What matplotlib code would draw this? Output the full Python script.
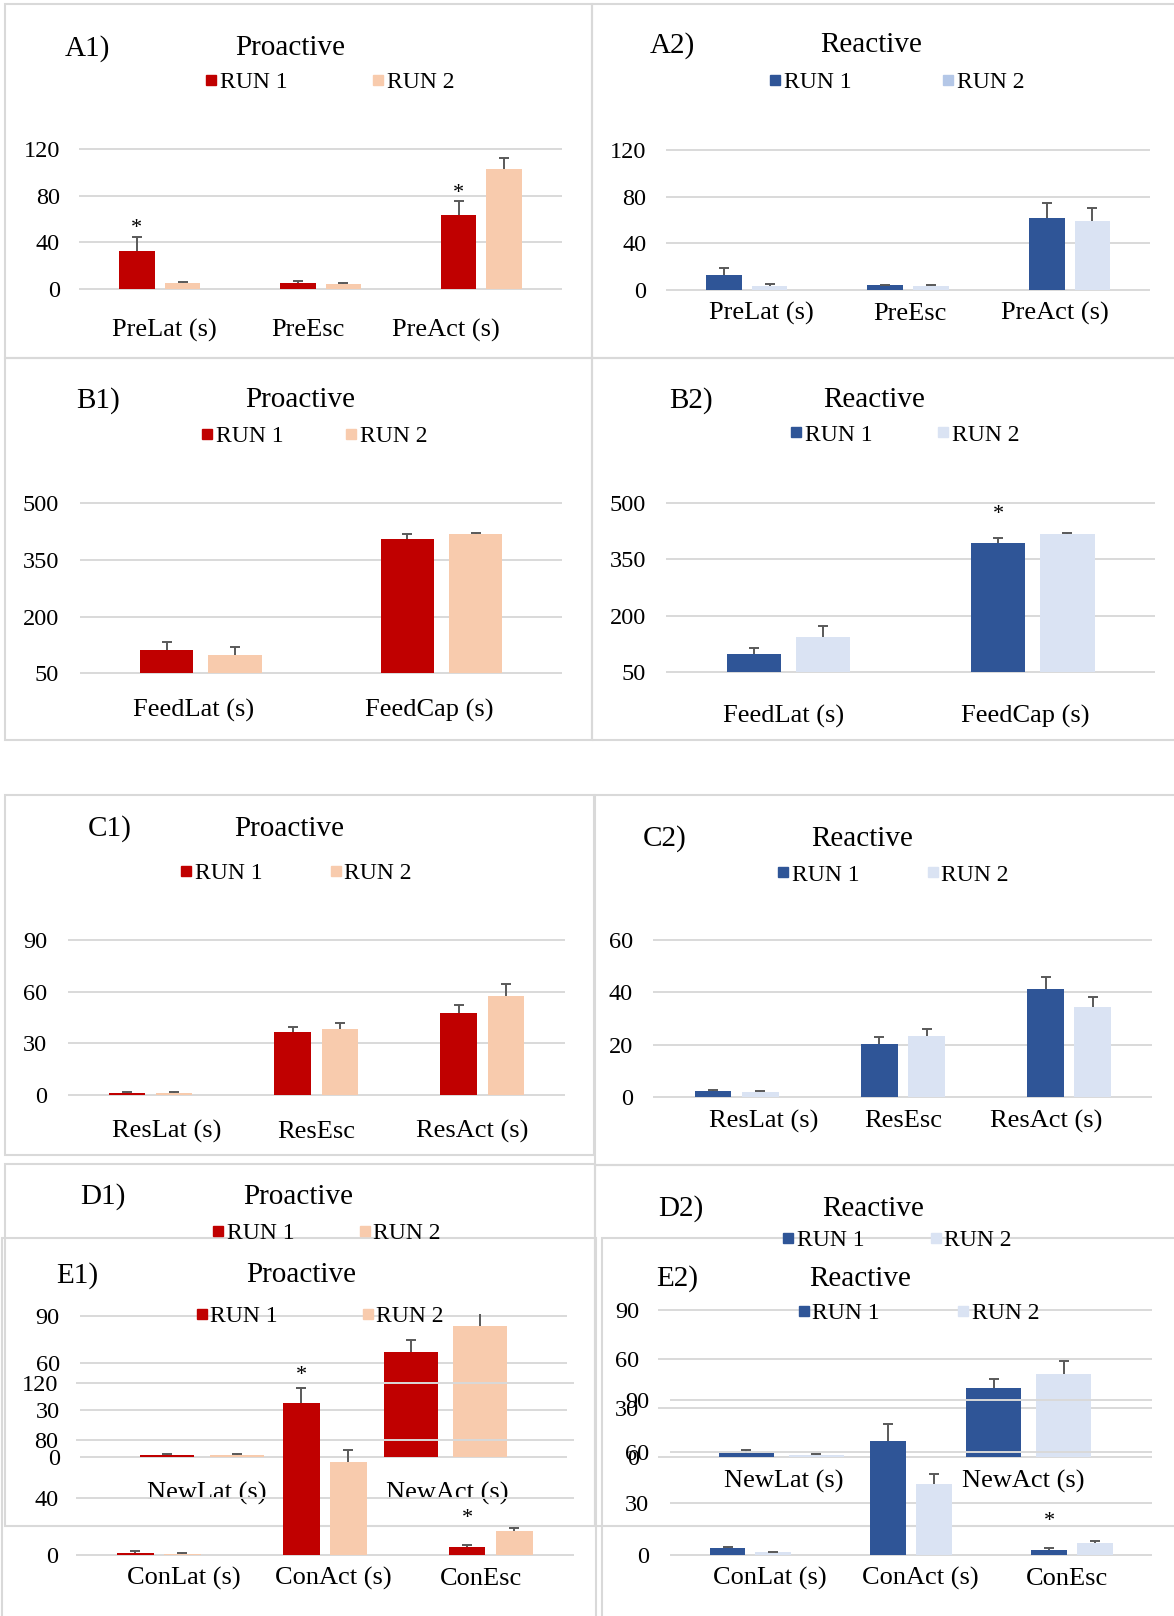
import numpy as np
import matplotlib
matplotlib.use("Agg")
import matplotlib.pyplot as plt
from matplotlib.lines import Line2D
from matplotlib.patches import Rectangle

plt.rcParams['font.family'] = ['Liberation Serif', 'DejaVu Serif']

# layout grid = reference as displayed (1139 x 1568), output is 1174 x 1616
W, H = 1139.0, 1568.0
SC = 1174.0 / 1139.0          # layout px -> output px
PT = 72.0 / 100.0             # output px -> points (dpi 100)
TXT_DY = 2.0                  # matplotlib centres text a little high

RED, PEACH = '#c00000', '#f8cbad'
BLUE, PALE = '#2f5597', '#dae3f3'
ERRC = '#595959'
GRID = '#d9d9d9'

# ---------------- data ----------------
pre_cats = ["PreLat (s)", "PreEsc", "PreAct (s)"]
feed_cats = ["FeedLat (s)", "FeedCap (s)"]
res_cats = ["ResLat (s)", "ResEsc", "ResAct (s)"]
new_cats = ["NewLat (s)", "NewAct (s)"]
con_cats = ["ConLat (s)", "ConAct (s)", "ConEsc"]

a1_run1 = [32.1, 4.9, 63.0]
a1_run1_err = [12.0, 1.4, 12.3]
a1_run2 = [4.6, 4.0, 102.8]
a1_run2_err = [1.1, 0.9, 9.8]

a2_run1 = [12.9, 3.7, 61.3]
a2_run1_err = [5.4, 0.6, 12.9]
a2_run2 = [3.2, 3.2, 59.3]
a2_run2_err = [1.4, 0.8, 10.9]

b1_run1 = [111.8, 406.5]
b1_run1_err = [20.2, 12.3]
b1_run2 = [98.5, 418.8]
b1_run2_err = [20.3, 1.5]

b2_run1 = [96.3, 394.0]
b2_run1_err = [17.0, 12.4]
b2_run2 = [142.7, 419.0]
b2_run2_err = [30.3, 1.2]

c1_run1 = [1.2, 36.9, 47.9]
c1_run1_err = [0.5, 2.7, 4.4]
c1_run2 = [1.2, 38.4, 57.6]
c1_run2_err = [0.5, 3.3, 6.9]

c2_run1 = [2.2, 20.3, 41.3]
c2_run1_err = [0.3, 2.5, 4.4]
c2_run2 = [1.9, 23.3, 34.5]
c2_run2_err = [0.4, 2.8, 3.5]

d1_run1 = [1.7, 66.9]
d1_run1_err = [0.6, 7.9]
d1_run2 = [1.5, 83.4]
d1_run2_err = [0.6, 13.8]

d2_run1 = [2.8, 42.5]
d2_run1_err = [1.9, 5.4]
d2_run2 = [1.6, 50.6]
d2_run2_err = [0.6, 8.1]

e1_run1 = [1.8, 105.7, 5.6]
e1_run1_err = [1.2, 10.8, 1.7]
e1_run2 = [1.0, 64.7, 16.9]
e1_run2_err = [0.8, 8.5, 2.1]

e2_run1 = [4.1, 66.4, 3.1]
e2_run1_err = [0.9, 9.7, 0.8]
e2_run2 = [1.7, 41.1, 6.8]
e2_run2_err = [0.4, 6.0, 1.3]

# significant differences (category index of the RUN 1 bar)
a1_stars = [0, 2]
b2_stars = [1]
e1_stars = [1, 2]
e2_stars = [2]

fig = plt.figure(figsize=(11.74, 16.16), dpi=100)

BW, OFF = 0.222, 0.142


def fx(x):
    return x / W


def fy(y):
    return 1 - y / H


def panel(cats, r1, e1, r2, e2, cols, lay, stars=(), z=0):
    x0, x1, ytop, ybot = lay['plot']
    lo, hi = lay['ylim']
    u = (hi - lo) / (ybot - ytop)
    ext = 2.0
    ax = fig.add_axes([fx(x0), fy(ybot + ext), (x1 - x0) / W, (ybot - ytop + 2 * ext) / H],
                      zorder=z)
    ax.set_facecolor('none')
    n = len(cats)
    x = np.arange(n)
    r1, e1, r2, e2 = map(np.asarray, (r1, e1, r2, e2))
    ax.bar(x - OFF, r1 - lo, bottom=lo, width=BW, color=cols[0], zorder=2)
    ax.bar(x + OFF, r2 - lo, bottom=lo, width=BW, color=cols[1], zorder=2)
    for xs, v, e in [(x - OFF, r1, e1), (x + OFF, r2, e2)]:
        _, caps, _ = ax.errorbar(xs, v, yerr=[np.zeros(n), e], fmt='none', ecolor=ERRC,
                                 elinewidth=1.4, capsize=3.8, capthick=1.4, zorder=3)
        caps[0].set_visible(False)
    for i, off in zip(stars, lay.get('star_off', [])):
        ax.annotate('*', xy=(i - OFF, r1[i] + e1[i]),
                    xytext=(0, (off * SC - 6) * PT), textcoords='offset points',
                    ha='center', va='center', fontsize=16)
    ax.set_xlim(-0.5, n - 0.5)
    ax.set_ylim(lo - ext * u, hi + ext * u)
    ax.set_yticks(lay['yticks'])
    ax.grid(axis='y', color=GRID, lw=1.4)
    ax.set_axisbelow(True)
    for s in ax.spines.values():
        s.set_visible(False)
    ax.tick_params(axis='y', length=0, labelsize=17.5, pad=lay['ypad'] * SC * PT)
    ax.set_xticks(x + np.asarray(lay['xshift']))
    ax.set_xticklabels(cats, fontsize=19, va='center')
    ax.tick_params(axis='x', length=0, pad=(lay['xd'] + TXT_DY - ext) * SC * PT)

    # panel letter + title
    (lx, ly), (tx, ty) = lay['label_pos'], lay['title_pos']
    fig.text(fx(lx), fy(ly + TXT_DY), lay['label'], ha='center', va='center', fontsize=21)
    fig.text(fx(tx), fy(ty + TXT_DY), lay['title'], ha='center', va='center', fontsize=21)

    # legend entries
    for (sx, sy), c, name in zip(lay['legend'], lay.get('legcols', cols), ["RUN 1", "RUN 2"]):
        h = Line2D([], [], marker='s', ls='', color=c, markersize=7.8)
        fig.legend(handles=[h], labels=[name], loc='center left',
                   bbox_to_anchor=(fx(sx - 6), fy(sy + 1.5)), frameon=False, borderpad=0,
                   borderaxespad=0, handlelength=0.5, handletextpad=0.12, fontsize=17)
    return ax


def box(x0, y0, x1, y1, z=5):
    fig.add_artist(Rectangle((fx(x0), fy(y1)), (x1 - x0) / W, (y1 - y0) / H,
                             transform=fig.transFigure, fill=False, ec=GRID, lw=1.5, zorder=z))


# ---------------- A ----------------
box(5, 4, 574, 347)
box(574, 4, 1141, 347)
panel(pre_cats, a1_run1, a1_run1_err, a1_run2, a1_run2_err, (RED, PEACH),
      dict(plot=(77, 545, 144.6, 280.1), ylim=(0, 120), yticks=[0, 40, 80, 120], ypad=19,
           xd=38.5, xshift=[0.03, -0.08, -0.22], label='A1)', label_pos=(85, 45),
           title='Proactive', title_pos=(282, 45), legend=[(205, 78.6), (367, 78.6)],
           star_off=[14.2, 13.2]), stars=a1_stars)
panel(pre_cats, a2_run1, a2_run1_err, a2_run2, a2_run2_err, (BLUE, PALE),
      dict(plot=(646, 1116, 145.5, 281), ylim=(0, 120), yticks=[0, 40, 80, 120], ypad=19,
           xd=21.4, xshift=[0.09, 0.01, -0.09], label='A2)', label_pos=(652, 42),
           title='Reactive', title_pos=(845, 42), legend=[(752, 78.6), (920, 78.6)],
           legcols=(BLUE, '#b4c7e7')))

# ---------------- B ----------------
box(5, 347, 574, 718)
box(574, 347, 1141, 718)
panel(feed_cats, b1_run1, b1_run1_err, b1_run2, b1_run2_err, (RED, PEACH),
      dict(plot=(78, 545, 488.3, 653.3), ylim=(50, 500), yticks=[50, 200, 350, 500], ypad=21,
           xd=34, xshift=[-0.03, -0.05], label='B1)', label_pos=(95, 386.5),
           title='Proactive', title_pos=(291, 386.5), legend=[(201, 422), (341, 422)]))
panel(feed_cats, b2_run1, b2_run1_err, b2_run2, b2_run2_err, (BLUE, PALE),
      dict(plot=(646.5, 1120.5, 488.3, 651.7), ylim=(50, 500), yticks=[50, 200, 350, 500],
           ypad=20, xd=41.3, xshift=[-0.02, -0.03], label='B2)', label_pos=(670, 386.5),
           title='Reactive', title_pos=(848, 386.5), legend=[(773, 420.4), (915, 420.4)],
           star_off=[28.5]), stars=b2_stars)

# ---------------- C ----------------
box(5, 771, 576, 1121)
box(577, 771, 1141, 1130)
panel(res_cats, c1_run1, c1_run1_err, c1_run2, c1_run2_err, (RED, PEACH),
      dict(plot=(65.5, 548.5, 912, 1062.7), ylim=(0, 90), yticks=[0, 30, 60, 90], ypad=20,
           xd=33.6, xshift=[0.1, 0.0, -0.06], label='C1)', label_pos=(106, 802),
           title='Proactive', title_pos=(281, 802), legend=[(181, 845.7), (326, 845.7)]))
panel(res_cats, c2_run1, c2_run1_err, c2_run2, c2_run2_err, (BLUE, PALE),
      dict(plot=(634, 1118, 912, 1064.3), ylim=(0, 60), yticks=[0, 20, 40, 60], ypad=20,
           xd=21.7, xshift=[0.16, 0.0, -0.14], label='C2)', label_pos=(645, 811.7),
           title='Reactive', title_pos=(836, 811.7), legend=[(760, 847.3), (905, 847.3)]))

# ---------------- D (partly covered by E) ----------------
box(5, 1129, 577, 1481, z=0.5)
box(577, 1130, 1141, 1481, z=0.5)
panel(new_cats, d1_run1, d1_run1_err, d1_run2, d1_run2_err, (RED, PEACH),
      dict(plot=(78, 550, 1276.8, 1414.2), ylim=(0, 90), yticks=[0, 30, 60, 90], ypad=20,
           xd=33, xshift=[0.02, 0.01], label='D1)', label_pos=(100, 1159.4),
           title='Proactive', title_pos=(289, 1159.4), legend=[(212, 1195), (354, 1195)]))
panel(new_cats, d2_run1, d2_run1_err, d2_run2, d2_run2_err, (BLUE, PALE),
      dict(plot=(638, 1118, 1271, 1414), ylim=(0, 90), yticks=[0, 30, 60, 90], ypad=18,
           xd=21, xshift=[0.01, -0.02], label='D2)', label_pos=(661, 1170.7),
           title='Reactive', title_pos=(847, 1170.7), legend=[(765, 1202), (908, 1202)]))

# ---------------- E ----------------
box(2, 1201, 578, 1572, z=2)
box(584, 1201, 1141, 1572, z=2)
panel(con_cats, e1_run1, e1_run1_err, e1_run2, e1_run2_err, (RED, PEACH),
      dict(plot=(73.5, 556.5, 1341.5, 1509), ylim=(0, 120), yticks=[0, 40, 80, 120], ypad=17,
           xd=20.7, xshift=[0.15, 0.05, -0.06], label='E1)', label_pos=(75, 1235.4),
           title='Proactive', title_pos=(292, 1235.4), legend=[(196, 1275.8), (357, 1275.8)],
           star_off=[17.9, 31.0]), stars=e1_stars, z=1)
panel(con_cats, e2_run1, e2_run1_err, e2_run2, e2_run2_err, (BLUE, PALE),
      dict(plot=(650, 1118, 1358.3, 1509), ylim=(0, 90), yticks=[0, 30, 60, 90], ypad=20,
           xd=20.7, xshift=[0.12, 0.06, -0.03], label='E2)', label_pos=(657, 1238.6),
           title='Reactive', title_pos=(834, 1238.6), legend=[(780, 1272.6), (935, 1272.6)],
           star_off=[31.7]), stars=e2_stars, z=1)

fig.savefig("out.png", dpi=100)
